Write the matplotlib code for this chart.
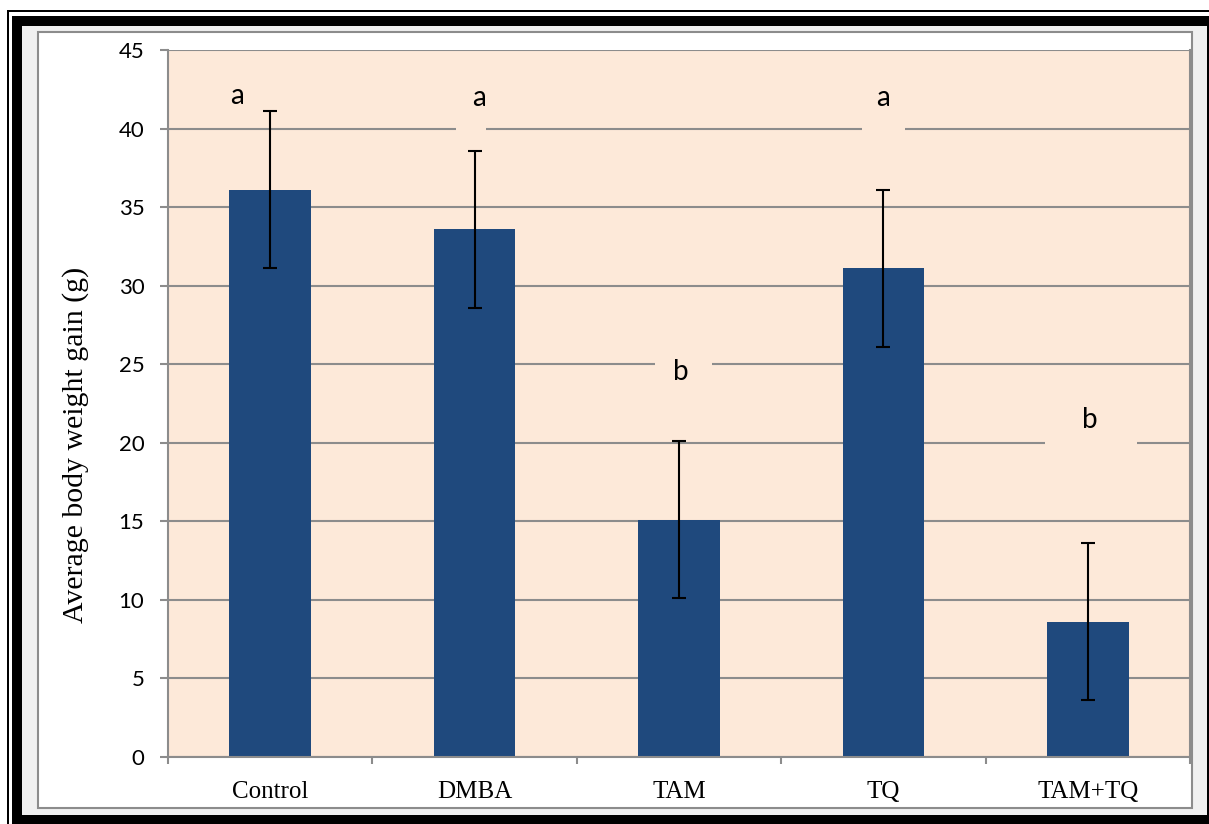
import matplotlib
matplotlib.use("Agg")
import matplotlib.pyplot as plt
from matplotlib.patches import Rectangle
from matplotlib.ticker import FixedLocator, NullFormatter

# ---- data ----
groups = ["Control", "DMBA", "TAM", "TQ", "TAM+TQ"]
weight_gain = [36.1, 33.6, 15.1, 31.1, 8.6]
weight_err = [5.0, 5.0, 5.0, 5.0, 5.0]
sig_letters = ["a", "a", "b", "a", "b"]
y_ticks = [0, 5, 10, 15, 20, 25, 30, 35, 40, 45]

# ---- layout / style ----
letter_x_off = [-0.16, 0.02, 0.01, 0.0, 0.01]
letter_y = [42.1, 41.95, 24.5, 41.95, 21.45]
box_left = [-0.24, -0.09, -0.117, -0.105, -0.21]
box_right = [-0.08, 0.056, 0.16, 0.105, 0.24]
box_low = [41.0, 39.5, 22.7, 39.5, 19.5]
box_high = [43.5, 44.0, 26.0, 44.0, 23.0]

W, H = 1209, 824
PEACH = "#FDE9D9"
BAR = "#1F497D"
GRID = "#8C8C8C"

fig = plt.figure(figsize=(W / 100, H / 100), dpi=100, facecolor="white")


def px_rect(left, top, right, bottom, **kw):
    r = Rectangle((left / W, 1 - bottom / H), (right - left) / W, (bottom - top) / H,
                  transform=fig.transFigure, **kw)
    fig.add_artist(r)
    return r


# picture frame: thin black line, white gap, thick black band, grey mat
px_rect(7, 10, W + 5, H + 5, facecolor="black", edgecolor="none", zorder=-10)
px_rect(9, 12, W + 5, H + 5, facecolor="white", edgecolor="none", zorder=-9)
px_rect(12, 16, W + 5, H + 5, facecolor="black", edgecolor="none", zorder=-8)
px_rect(22, 26, 1207, 815, facecolor="#F0F0F0", edgecolor="none", zorder=-7)
px_rect(38, 32, 1192, 808, facecolor="white", edgecolor=GRID, linewidth=1.5, zorder=-6)

# plot area
ax_l, ax_r, ax_t, ax_b = 168, 1190, 50, 757
ax = fig.add_axes([ax_l / W, 1 - ax_b / H, (ax_r - ax_l) / W, (ax_b - ax_t) / H])
ax.set_facecolor(PEACH)
ax.set_axisbelow(True)

x = list(range(len(groups)))
ax.bar(x, weight_gain, width=0.4, color=BAR, zorder=2)
ax.errorbar(x, weight_gain, yerr=weight_err, fmt="none", ecolor="black",
            elinewidth=1.5, capsize=5, capthick=1.5, zorder=3)

# significance letters with background boxes
for i, lab in enumerate(sig_letters):
    ax.add_patch(Rectangle((x[i] + box_left[i], box_low[i]), box_right[i] - box_left[i],
                           box_high[i] - box_low[i], facecolor=PEACH, edgecolor="none",
                           zorder=1))
    ax.text(x[i] + letter_x_off[i], letter_y[i], lab, ha="center", va="center",
            fontsize=20, family="Lato", color="black", zorder=4)

ax.set_xlim(-0.5, len(groups) - 0.5)
ax.set_ylim(0, 45)
ax.set_yticks(y_ticks)
ax.set_yticklabels([str(v) for v in y_ticks], family="Lato", fontsize=16)
ax.yaxis.grid(True, color=GRID, linewidth=1.5)
ax.tick_params(axis="y", direction="out", length=6, width=1.5, color=GRID, pad=11)

ax.set_xticks(x)
ax.set_xticklabels(groups, family="Liberation Serif", fontsize=18)
ax.xaxis.set_minor_locator(FixedLocator([i - 0.5 for i in range(len(groups) + 1)]))
ax.xaxis.set_minor_formatter(NullFormatter())
ax.tick_params(axis="x", which="major", length=0, pad=17)
ax.tick_params(axis="x", which="minor", direction="out", length=5, width=1.5, color=GRID)

for side in ["left", "bottom", "right"]:
    ax.spines[side].set_color(GRID)
    ax.spines[side].set_linewidth(1.5)
ax.spines["top"].set_visible(False)

ax.set_ylabel("Average body weight gain (g)", family="Liberation Serif", fontsize=21.5)
ax.yaxis.set_label_coords(-0.077, 0.441)

fig.savefig("out.png", dpi=100, facecolor="white")
